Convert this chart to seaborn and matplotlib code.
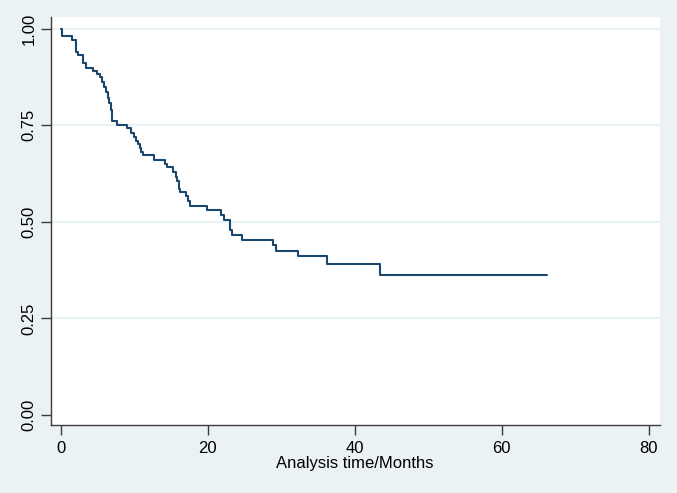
import matplotlib
matplotlib.use("Agg")
import matplotlib.pyplot as plt
import seaborn as sns
import pandas as pd
from matplotlib import font_manager

# Kaplan-Meier step data (time in months, survival after each step)
times = [0.0, 0.1, 1.54, 2.04, 2.31, 3.04, 3.36, 4.40, 4.95, 5.31, 5.58, 5.86,
         6.13, 6.35, 6.58, 6.76, 6.90, 7.67, 8.94, 9.55, 9.98, 10.26, 10.44,
         10.76, 10.94, 11.21, 12.71, 14.16, 14.39, 15.30, 15.66, 15.84, 16.02,
         16.20, 17.02, 17.33, 17.56, 19.93, 21.76, 22.15, 23.03, 23.23, 24.65,
         28.82, 29.32, 32.22, 36.22, 43.40, 66.10]
survival = [1.000, 0.981, 0.970, 0.940, 0.931, 0.910, 0.899, 0.891, 0.884, 0.874,
            0.862, 0.850, 0.837, 0.820, 0.807, 0.789, 0.762, 0.751, 0.742, 0.731,
            0.719, 0.710, 0.701, 0.691, 0.680, 0.672, 0.661, 0.650, 0.641, 0.630,
            0.616, 0.605, 0.586, 0.576, 0.566, 0.553, 0.541, 0.531, 0.517, 0.504,
            0.480, 0.467, 0.454, 0.439, 0.425, 0.411, 0.392, 0.362, 0.362]
x_ticks = [0, 20, 40, 60, 80]
y_ticks = [0.00, 0.25, 0.50, 0.75, 1.00]
y_tick_labels = ["0.00", "0.25", "0.50", "0.75", "1.00"]
x_label = "Analysis time/Months"

df = pd.DataFrame({"time": times, "surv": survival})

sns.set_theme(style="white")
names = {f.name for f in font_manager.fontManager.ttflist}
fam = [f for f in ["Liberation Sans", "DejaVu Sans"] if f in names]
plt.rcParams["font.family"] = fam

bg = "#EAF2F3"
navy = "#1A476F"
axc = "#3c3c3c"

fig = plt.figure(figsize=(6.77, 4.93), dpi=100, facecolor=bg)
ax = fig.add_axes([0.0746, 0.1373, 0.900, 0.8276])
ax.set_facecolor("white")

sns.lineplot(data=df, x="time", y="surv", ax=ax, estimator=None, sort=True,
             drawstyle="steps-post", color=navy, linewidth=1.5)

ax.set_xlim(-1.42, 81.5)
ax.set_ylim(-0.0267, 1.0295)
ax.set_xticks(x_ticks)
ax.set_xticklabels([str(v) for v in x_ticks])
ax.set_yticks(y_ticks)
ax.set_yticklabels(y_tick_labels, rotation=90, va="center")

for yv in y_ticks[1:]:
    ax.axhline(yv, color=bg, linewidth=1.6, zorder=0)

for s in ["top", "right"]:
    ax.spines[s].set_visible(False)
for s in ["left", "bottom"]:
    ax.spines[s].set_color(axc)
    ax.spines[s].set_linewidth(1.0)

ax.tick_params(axis="both", which="major", direction="out", length=7, width=1.0,
               color=axc, labelsize=12, labelcolor="black",
               bottom=True, left=True)
ax.tick_params(axis="x", pad=4)
ax.tick_params(axis="y", pad=3)
ax.set_xlabel(x_label, fontsize=12, color="black", labelpad=0)
ax.set_ylabel("")

fig.savefig("out.png", dpi=100, facecolor=bg)
